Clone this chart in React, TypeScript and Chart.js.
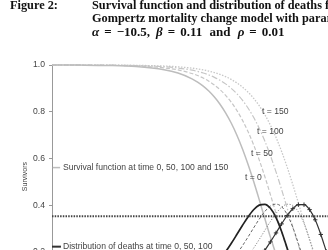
import React, { useEffect, useRef } from "react";
import { Chart, registerables } from "chart.js";

Chart.register(...registerables);

// Ages (x values, years)
const AGES = [0, 10, 20, 30, 40, 45, 50, 52, 54, 56, 58, 60, 62, 64, 66, 68, 70, 72, 74, 76, 78, 80, 82, 84, 86, 88, 90, 92, 94, 96, 98, 100, 102, 104, 106, 108, 110];

// Survival function at time t = 0, 50, 100, 150
const SURV_T0 = [1.0, 0.9995, 0.998, 0.9935, 0.9801, 0.9655, 0.9408, 0.9267, 0.9095, 0.8885, 0.8629, 0.8321, 0.7953, 0.7517, 0.7006, 0.6418, 0.5754, 0.5023, 0.424, 0.3432, 0.2638, 0.19, 0.1263, 0.0759, 0.0402, 0.0182, 0.0068, 0.002, 0.0004, 0.0001, 0, 0, 0, 0, 0, 0, 0];
const SURV_T50 = [1.0, 0.9997, 0.9988, 0.996, 0.9879, 0.9789, 0.9637, 0.9549, 0.9441, 0.9308, 0.9145, 0.8945, 0.8703, 0.841, 0.8059, 0.7642, 0.7152, 0.6586, 0.5942, 0.5228, 0.4456, 0.3652, 0.2851, 0.2093, 0.1424, 0.0882, 0.0485, 0.023, 0.0091, 0.0029, 0.0007, 0.0001, 0, 0, 0, 0, 0];
const SURV_T100 = [1.0, 0.9998, 0.9993, 0.9976, 0.9926, 0.9872, 0.9778, 0.9724, 0.9657, 0.9574, 0.9472, 0.9346, 0.9192, 0.9003, 0.8773, 0.8495, 0.816, 0.7762, 0.7293, 0.6748, 0.6125, 0.5429, 0.4671, 0.3873, 0.3067, 0.2293, 0.1596, 0.1016, 0.0579, 0.0287, 0.012, 0.004, 0.001, 0.0002, 0, 0, 0];
const SURV_T150 = [1.0, 0.9999, 0.9996, 0.9985, 0.9955, 0.9922, 0.9865, 0.9832, 0.9791, 0.974, 0.9676, 0.9598, 0.9502, 0.9383, 0.9237, 0.9058, 0.884, 0.8576, 0.8257, 0.7877, 0.7428, 0.6904, 0.6302, 0.5625, 0.4882, 0.4093, 0.3285, 0.2498, 0.1775, 0.116, 0.0683, 0.0353, 0.0155, 0.0056, 0.0015, 0.0003, 0];

// Distribution of deaths at time t = 0, 50, 100, 150 (scaled x10)
const DEATHS_T0 = [0.0003, 0.0008, 0.0025, 0.0074, 0.022, 0.0375, 0.0634, 0.0778, 0.0952, 0.1158, 0.1402, 0.1685, 0.2006, 0.2363, 0.2744, 0.3132, 0.3499, 0.3806, 0.4003, 0.4038, 0.3868, 0.3472, 0.2875, 0.2153, 0.1422, 0.0804, 0.0374, 0.0137, 0.0037, 0.0007, 0.0001, 0, 0, 0, 0, 0, 0];
const DEATHS_T50 = [0.0002, 0.0005, 0.0015, 0.0045, 0.0134, 0.0231, 0.0394, 0.0486, 0.0599, 0.0736, 0.0901, 0.1098, 0.1332, 0.1603, 0.1914, 0.2262, 0.2638, 0.3027, 0.3403, 0.3731, 0.3963, 0.4047, 0.3936, 0.3601, 0.3054, 0.2356, 0.1615, 0.0956, 0.0471, 0.0185, 0.0054, 0.0011, 0.0002, 0, 0, 0, 0];
const DEATHS_T100 = [0.0001, 0.0003, 0.0009, 0.0027, 0.0082, 0.0141, 0.0242, 0.03, 0.0372, 0.0459, 0.0566, 0.0696, 0.0853, 0.1041, 0.1264, 0.1525, 0.1826, 0.2164, 0.2533, 0.2921, 0.3303, 0.3649, 0.3912, 0.4042, 0.3988, 0.3715, 0.3221, 0.2555, 0.1814, 0.1121, 0.0583, 0.0244, 0.0078, 0.0018, 0.0003, 0, 0];
const DEATHS_T150 = [0.0001, 0.0002, 0.0006, 0.0017, 0.005, 0.0086, 0.0148, 0.0184, 0.0229, 0.0283, 0.0351, 0.0434, 0.0535, 0.0658, 0.0807, 0.0986, 0.12, 0.145, 0.174, 0.2068, 0.243, 0.2814, 0.3201, 0.356, 0.3851, 0.4022, 0.4023, 0.3812, 0.3376, 0.2749, 0.2016, 0.1298, 0.071, 0.0317, 0.011, 0.0028, 0.0005];

// Horizontal reference level
const REF_AGES = [0, 110];
const REF_LEVEL = 0.353;

// In-plot labels (anchored in data coordinates)
const T_LABELS = ["t = 0", "t = 50", "t = 100", "t = 150"];
const T_LABEL_AGE = [68.9, 71.1, 73.2, 75.0];
const T_LABEL_VALUE = [0.52, 0.619, 0.717, 0.799];
const KEY_TEXTS = ["Survival function at time 0, 50, 100 and 150", "Distribution of deaths at time 0, 50, 100"];
const KEY_VALUE = [0.561, 0.2227];
const Y_TITLE = "Survivors";

const FONT = '"Liberation Sans", Arial, sans-serif';

const pts = (xs: number[], ys: number[]) => xs.map((x, i) => ({ x, y: ys[i] }));

const annotPlugin = {
  id: "annot",
  afterDatasetsDraw(chart: any) {
    const { ctx, scales } = chart;
    const x = scales.x;
    const y = scales.y;
    ctx.save();
    // key line marks
    ctx.lineWidth = 1.5;
    ctx.strokeStyle = "#bdbdbd";
    ctx.beginPath();
    ctx.moveTo(x.getPixelForValue(0.3), y.getPixelForValue(KEY_VALUE[0]));
    ctx.lineTo(x.getPixelForValue(2.9), y.getPixelForValue(KEY_VALUE[0]));
    ctx.stroke();
    ctx.lineWidth = 2;
    ctx.strokeStyle = "#333";
    ctx.beginPath();
    ctx.moveTo(x.getPixelForValue(0), y.getPixelForValue(KEY_VALUE[1]));
    ctx.lineTo(x.getPixelForValue(3.2), y.getPixelForValue(KEY_VALUE[1]));
    ctx.stroke();

    ctx.fillStyle = "#444";
    ctx.font = `8.6px ${FONT}`;
    ctx.textBaseline = "middle";
    ctx.textAlign = "left";
    KEY_TEXTS.forEach((t, i) => {
      ctx.fillText(t, x.getPixelForValue(3.9), y.getPixelForValue(KEY_VALUE[i]));
    });
    T_LABELS.forEach((t, i) => {
      ctx.fillText(t, x.getPixelForValue(T_LABEL_AGE[i]), y.getPixelForValue(T_LABEL_VALUE[i]));
    });
    // axis title
    ctx.translate(25, y.getPixelForValue(0.5225));
    ctx.rotate(-Math.PI / 2);
    ctx.textAlign = "center";
    ctx.font = `7px ${FONT}`;
    ctx.fillText(Y_TITLE, 0, 0);
    ctx.restore();
  },
};

export default function App() {
  const ref = useRef<HTMLCanvasElement | null>(null);
  useEffect(() => {
    if (!ref.current) return;
    const line = (data: number[], color: string, width: number, dash: number[], order: number, extra: any = {}) => ({
      data: pts(AGES, data),
      borderColor: color,
      borderWidth: width,
      borderDash: dash,
      pointRadius: 0,
      cubicInterpolationMode: "monotone",
      fill: false,
      clip: 3,
      order,
      ...extra,
    });
    const chart = new Chart(ref.current, {
      type: "line",
      data: {
        datasets: [
          {
            data: pts(REF_AGES, [REF_LEVEL, REF_LEVEL]),
            borderColor: "#444",
            borderWidth: 2,
            borderDash: [1.5, 1.2],
            pointRadius: 0,
            clip: 3,
            order: 0,
          } as any,
          line(DEATHS_T0, "#222", 1.7, [], 1),
          line(DEATHS_T50, "#666", 1, [3, 2], 2),
          line(DEATHS_T100, "#888", 1, [1.2, 1.6], 3),
          line(DEATHS_T150, "#333", 1.2, [], 1, {
            pointRadius: 2.2,
            pointStyle: "cross",
            pointBorderColor: "#333",
            pointBorderWidth: 1,
          }),
          line(SURV_T0, "#bdbdbd", 1.5, [], 5),
          line(SURV_T50, "#c6c6c6", 1.2, [4, 2], 6),
          line(SURV_T100, "#c6c6c6", 1.2, [6, 2, 1.5, 2], 7),
          line(SURV_T150, "#c8c8c8", 1.3, [1.5, 1.5], 8),
        ] as any,
      },
      options: {
        responsive: false,
        animation: false,
        devicePixelRatio: 1,
        events: [],
        layout: { padding: { top: 65, left: 0, right: 40, bottom: 21.3 } },
        plugins: { legend: { display: false }, tooltip: { enabled: false }, title: { display: false } },
        scales: {
          x: { type: "linear", min: 0, max: 110, display: false },
          y: {
            min: 0,
            max: 1,
            afterFit: (s: any) => {
              s.width = 52;
            },
            ticks: {
              stepSize: 0.2,
              padding: 4,
              color: "#444",
              font: { family: FONT, size: 8.6 },
              callback: (v: any) => Number(v).toFixed(1),
            },
            grid: { drawOnChartArea: false, drawTicks: true, tickLength: 3, color: "#999", lineWidth: 1 },
            border: { display: true, color: "#999", width: 1 },
          },
        },
      } as any,
      plugins: [annotPlugin],
    });
    return () => chart.destroy();
  }, []);

  const titleFont = 'bold 12.3px/13px "Liberation Serif", "Times New Roman", serif';
  const eq = { margin: "0 5px" };
  return (
    <div style={{ position: "fixed", left: 0, top: 0, width: 328, height: 250, overflow: "hidden", background: "#fff" }}>
      <canvas ref={ref} width={400} height={320} style={{ position: "absolute", left: 0, top: 0, width: 400, height: 320 }} />
      <div style={{ position: "absolute", left: 10, top: -1.5, font: titleFont, whiteSpace: "nowrap", color: "#111" }}>Figure 2:</div>
      <div style={{ position: "absolute", left: 92, top: -1.5, font: titleFont, whiteSpace: "nowrap", color: "#111" }}>
        <div>Survival function and distribution of deaths for the</div>
        <div>Gompertz mortality change model with parameters</div>
        <div style={{ fontSize: "13px" }}>
          <i>α</i>
          <span style={eq}>=</span>−10.5,<span style={{ marginRight: 6 }}></span>
          <i>β</i>
          <span style={eq}>=</span>0.11<span style={{ margin: "0 4px" }}> and </span>
          <i>ρ</i>
          <span style={eq}>=</span>0.01
        </div>
      </div>
    </div>
  );
}
